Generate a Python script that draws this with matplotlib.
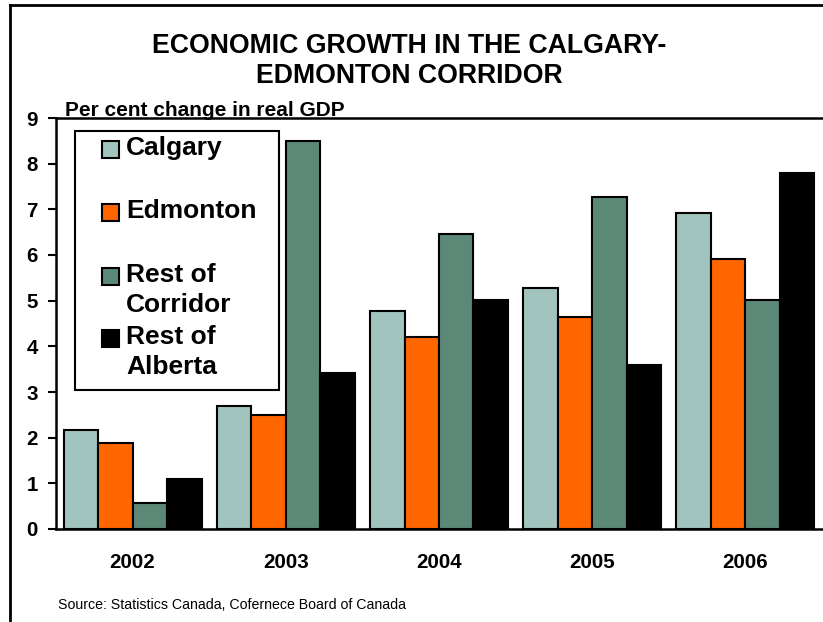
import matplotlib
matplotlib.use("Agg")
import matplotlib.pyplot as plt
from matplotlib.patches import Rectangle
from matplotlib.lines import Line2D
import numpy as np

# --- data ----------------------------------------------------------------
years = ["2002", "2003", "2004", "2005", "2006"]
series = ["Calgary", "Edmonton", "Rest of\nCorridor", "Rest of\nAlberta"]
calgary = [2.17, 2.69, 4.78, 5.27, 6.92]
edmonton = [1.88, 2.49, 4.20, 4.65, 5.91]
rest_corridor = [0.56, 8.50, 6.46, 7.28, 5.01]
rest_alberta = [1.10, 3.41, 5.01, 3.59, 7.80]
yticks = list(range(0, 10))

COLORS = ["#A2C4BE", "#FF6600", "#5C8878", "#000000"]
W, H = 823, 622

plt.rcParams["font.family"] = ["Liberation Sans", "DejaVu Sans"]


def fx(px):
    return px / W


def fy(py):
    return 1 - py / H


fig = plt.figure(figsize=(W / 100, H / 100), dpi=100)
ax = fig.add_axes([fx(56), fy(529), fx(822) - fx(56), fy(118) - fy(529)])

x = np.arange(len(years))
bw = 0.225
values = [calgary, edmonton, rest_corridor, rest_alberta]
for i, (vals, col) in enumerate(zip(values, COLORS)):
    ax.bar(x + (i - 1.5) * bw, vals, width=bw, color=col, edgecolor="black",
           linewidth=1.5, zorder=3)

ax.set_xlim(-0.5, len(years) - 0.5)
ax.set_ylim(0, 9)
ax.set_yticks(yticks)
ax.set_yticklabels([str(t) for t in yticks], fontsize=14.8, fontweight="bold")
ax.set_xticks(x)
ax.set_xticklabels(years, fontsize=14.8, fontweight="bold")
ax.tick_params(axis="y", direction="out", length=6, width=1.5, pad=7)
ax.tick_params(axis="x", length=0, pad=17)
for s in ["left", "bottom", "top"]:
    ax.spines[s].set_linewidth(1.8)
ax.spines["right"].set_visible(False)

# title + axis caption + source
fig.text(fx(409), fy(61), "ECONOMIC GROWTH IN THE CALGARY-\nEDMONTON CORRIDOR",
         ha="center", va="center", fontsize=19.2, fontweight="bold", linespacing=1.17)
fig.text(fx(65), fy(116), "Per cent change in real GDP", ha="left", va="baseline",
         fontsize=15, fontweight="bold")
fig.text(fx(58), fy(609), "Source: Statistics Canada, Cofernece Board of Canada",
         ha="left", va="baseline", fontsize=10.2)

# outer frame (cropped on right/bottom)
fig.add_artist(Line2D([fx(10), fx(10)], [fy(5), 0], transform=fig.transFigure,
                      color="black", lw=2))
fig.add_artist(Line2D([fx(10), 1], [fy(5), fy(5)], transform=fig.transFigure,
                      color="black", lw=2))

# legend drawn by hand so swatches line up with the first text line
fig.add_artist(Rectangle((fx(75), fy(390)), fx(279) - fx(75), fy(131) - fy(390),
                         transform=fig.transFigure, facecolor="white",
                         edgecolor="black", lw=1.5, zorder=5))
rows = [149, 212, 276, 338]
for lab, col, ry in zip(series, COLORS, rows):
    fig.add_artist(Rectangle((fx(102), fy(ry + 9)), fx(17), 17 / H,
                             transform=fig.transFigure, facecolor=col,
                             edgecolor="black", lw=1.5, zorder=6))
    fig.text(fx(126), fy(ry - 13), lab, ha="left", va="top", fontsize=19,
             fontweight="bold", linespacing=1.3, zorder=7)

fig.savefig("out.png", dpi=100)
